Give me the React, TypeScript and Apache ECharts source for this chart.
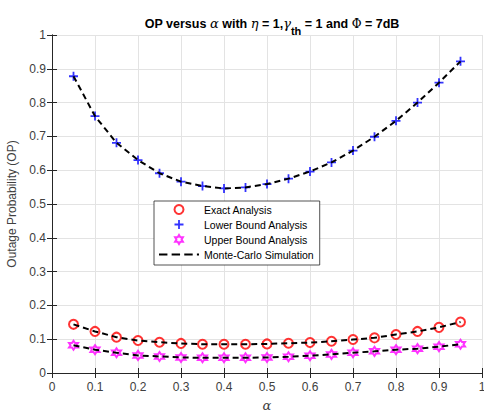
import React, { useEffect, useRef } from "react";
import * as echarts from "echarts";

const alphas = [0.05, 0.1, 0.15, 0.2, 0.25, 0.3, 0.35, 0.4, 0.45, 0.5, 0.55, 0.6, 0.65, 0.7, 0.75, 0.8, 0.85, 0.9, 0.95];
const exactAnalysis = [0.144, 0.123, 0.106, 0.096, 0.091, 0.0875, 0.085, 0.085, 0.085, 0.086, 0.088, 0.09, 0.094, 0.099, 0.104, 0.114, 0.123, 0.135, 0.151];
const lowerBound = [0.878, 0.76, 0.681, 0.63, 0.591, 0.566, 0.553, 0.546, 0.549, 0.559, 0.575, 0.596, 0.623, 0.658, 0.699, 0.746, 0.8, 0.859, 0.922];
const upperBound = [0.082, 0.069, 0.06, 0.052, 0.049, 0.046, 0.045, 0.045, 0.045, 0.046, 0.048, 0.051, 0.055, 0.06, 0.064, 0.069, 0.072, 0.078, 0.085];
const monteCarloExact = [0.144, 0.123, 0.106, 0.096, 0.091, 0.0875, 0.085, 0.085, 0.085, 0.086, 0.088, 0.09, 0.094, 0.099, 0.104, 0.114, 0.123, 0.135, 0.151];
const monteCarloLower = [0.878, 0.76, 0.681, 0.63, 0.591, 0.566, 0.553, 0.546, 0.549, 0.559, 0.575, 0.596, 0.623, 0.658, 0.699, 0.746, 0.8, 0.859, 0.922];
const monteCarloUpper = [0.082, 0.069, 0.06, 0.052, 0.049, 0.046, 0.045, 0.045, 0.045, 0.046, 0.048, 0.051, 0.055, 0.06, 0.064, 0.069, 0.072, 0.078, 0.085];

const seriesNames = ["Exact Analysis", "Lower Bound Analysis", "Upper Bound Analysis", "Monte-Carlo Simulation"];

const plusPath = "path://M4,0 H6 V4 H10 V6 H6 V10 H4 V6 H0 V4 H4 Z";
const hexPath =
  "path://M10,0 L12.887,5 L18.66,5 L15.774,10 L18.66,15 L12.887,15 L10,20 L7.113,15 L1.34,15 L4.226,10 L1.34,5 L7.113,5 Z";
const dashPath = "path://M0,0 H8 V2 H0 Z M12,0 H20 V2 H12 Z M24,0 H32 V2 H24 Z M36,0 H38 V2 H36 Z";

const pairs = (ys: number[]) => alphas.map((a, i) => [a, ys[i]]);

const FONT = "'Liberation Sans', Arial, Helvetica, sans-serif";
const AXIS_COLOR = "#262626";
const LABEL_COLOR = "#404040";

export default function App() {
  const ref = useRef<HTMLDivElement>(null);
  useEffect(() => {
    if (!ref.current) return;
    const chart = echarts.init(ref.current, null, { renderer: "svg" });
    const baseX = {
      type: "value" as const,
      min: 0,
      max: 1,
      interval: 0.1,
    };
    const baseY = {
      type: "value" as const,
      min: 0,
      max: 1,
      interval: 0.1,
    };
    chart.setOption({
      animation: false,
      backgroundColor: "#fff",
      textStyle: { fontFamily: FONT },
      title: {
        left: 267,
        top: 6,
        textAlign: "center",
        text: "{b|OP versus }{g|α}{b| with }{g|η}{b| = 1,}{g|γ}{s|th}{b| = 1 and }{p|Φ}{b| = 7dB}",
        textStyle: {
          rich: {
            b: { fontFamily: FONT, fontWeight: "bold", fontSize: 12.5, color: "#000" },
            g: { fontFamily: "'DejaVu Serif', serif", fontStyle: "italic", fontWeight: "normal", fontSize: 13, color: "#000" },
            p: { fontFamily: "'DejaVu Serif', serif", fontWeight: "normal", fontSize: 12, color: "#000" },
            s: { fontFamily: FONT, fontWeight: "bold", fontSize: 11, color: "#000", padding: [14, 0, 0, 0] },
          },
        },
      },
      legend: {
        orient: "vertical",
        left: 154,
        top: 201,
        padding: [3, 6, 5, 5],
        itemWidth: 40,
        itemHeight: 9,
        itemGap: 4,
        borderColor: "#262626",
        borderWidth: 0.8,
        backgroundColor: "#fff",
        textStyle: { fontFamily: FONT, fontSize: 10.5, color: "#000" },
        data: [
          { name: seriesNames[0], icon: "emptyCircle" },
          { name: seriesNames[1], icon: plusPath },
          { name: seriesNames[2], icon: hexPath },
          { name: seriesNames[3], icon: dashPath },
        ],
      },
      grid: { left: 52, right: 2, top: 35, bottom: 39, containLabel: false, outerBoundsMode: "none" },
      xAxis: [
        {
          ...baseX,
          position: "bottom",
          name: "α",
          nameLocation: "middle",
          nameGap: 26,
          nameTextStyle: { fontFamily: "'DejaVu Serif', serif", fontStyle: "italic", fontSize: 13, color: LABEL_COLOR },
          axisLine: { show: true, lineStyle: { color: AXIS_COLOR, width: 1 } },
          axisTick: { show: true, inside: true, length: 5, lineStyle: { color: AXIS_COLOR } },
          axisLabel: { fontSize: 12, color: LABEL_COLOR, margin: 8, fontFamily: FONT },
          splitLine: { show: true, lineStyle: { color: "#e3e3e3", width: 1 } },
        },
        {
          ...baseX,
          position: "top",
          axisLine: { show: true, lineStyle: { color: AXIS_COLOR, width: 1 } },
          axisTick: { show: true, inside: true, length: 5, lineStyle: { color: AXIS_COLOR } },
          axisLabel: { show: false },
          splitLine: { show: false },
        },
      ],
      yAxis: [
        {
          ...baseY,
          position: "left",
          name: "Outage Probability (OP)",
          nameLocation: "middle",
          nameGap: 32,
          nameTextStyle: { fontFamily: FONT, fontSize: 12, color: LABEL_COLOR },
          axisLine: { show: true, lineStyle: { color: AXIS_COLOR, width: 1 } },
          axisTick: { show: true, inside: true, length: 5, lineStyle: { color: AXIS_COLOR } },
          axisLabel: { fontSize: 12, color: LABEL_COLOR, margin: 6, fontFamily: FONT },
          splitLine: { show: true, lineStyle: { color: "#e3e3e3", width: 1 } },
        },
        {
          ...baseY,
          position: "right",
          axisLine: { show: true, lineStyle: { color: AXIS_COLOR, width: 1 } },
          axisTick: { show: true, inside: true, length: 5, lineStyle: { color: AXIS_COLOR } },
          axisLabel: { show: false },
          splitLine: { show: false },
        },
      ],
      series: [
        {
          name: seriesNames[0],
          type: "scatter",
          symbol: "emptyCircle",
          symbolSize: 9,
          itemStyle: { color: "#ff0000" },
          data: pairs(exactAnalysis),
          z: 2,
        },
        {
          name: seriesNames[1],
          type: "scatter",
          symbol: plusPath,
          symbolSize: 9,
          itemStyle: { color: "#0000ff" },
          data: pairs(lowerBound),
          z: 2,
        },
        {
          name: seriesNames[2],
          type: "scatter",
          symbol: hexPath,
          symbolSize: 9,
          itemStyle: { color: "rgba(255,0,255,0)", borderColor: "#ff00ff", borderWidth: 2 },
          data: pairs(upperBound),
          z: 2,
        },
        ...[monteCarloExact, monteCarloLower, monteCarloUpper].map((ys) => ({
          name: seriesNames[3],
          type: "line",
          symbol: "none",
          color: "#000",
          lineStyle: { color: "#000", width: 2, type: [6, 4] },
          data: pairs(ys),
          z: 3,
        })),
      ],
    });
    return () => chart.dispose();
  }, []);
  return <div ref={ref} style={{ width: 484, height: 412, position: "absolute", left: 0, top: 0 }} />;
}
